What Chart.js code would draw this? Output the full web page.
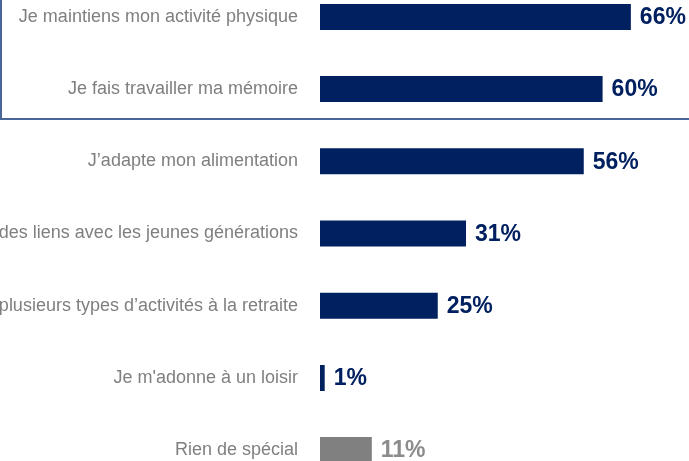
<!DOCTYPE html>
<html>
<head>
<meta charset="utf-8">
<script src="https://cdn.jsdelivr.net/npm/chart.js@4.4.1/dist/chart.umd.min.js"></script>
<style>
  html, body { margin: 0; padding: 0; background: #fff; overflow: hidden; width: 689px; height: 461px; }
  #chart { position: absolute; left: -200px; top: -44px; }
  #box { position: absolute; left: 0; top: -10px; width: 720px; height: 128px;
         border-left: 2px solid #4a6597; border-bottom: 2px solid #4a6597; }
</style>
</head>
<body>
<canvas id="chart" width="1000" height="555"></canvas>
<div id="box"></div>
<script>
// ---- Data ----
var categories = [
  'Je maintiens mon activité physique',
  'Je fais travailler ma mémoire',
  'J\u2019adapte mon alimentation',
  'J\u2019entretiens des liens avec les jeunes générations',
  'Je pratique plusieurs types d\u2019activités à la retraite',
  'Je m\'adonne à un loisir',
  'Rien de spécial'
];
var values = [66, 60, 56, 31, 25, 1, 11];
var barColors = ['#002060', '#002060', '#002060', '#002060', '#002060', '#002060', '#808080'];
var valueColors = ['#002060', '#002060', '#002060', '#002060', '#002060', '#002060', '#8c8c8c'];

// ---- Value labels at bar ends ----
var valueLabels = {
  id: 'valueLabels',
  afterDatasetsDraw: function(chart) {
    var ctx = chart.ctx;
    var meta = chart.getDatasetMeta(0);
    ctx.save();
    ctx.font = 'bold 23px "Liberation Sans", Arial, sans-serif';
    ctx.textAlign = 'left';
    ctx.textBaseline = 'middle';
    meta.data.forEach(function(bar, i) {
      ctx.fillStyle = valueColors[i];
      ctx.fillText(values[i] + '%', bar.x + 9, bar.y + 1);
    });
    ctx.restore();
  }
};

var ctx = document.getElementById('chart').getContext('2d');
var chart = new Chart(ctx, {
  type: 'bar',
  data: { labels: categories, datasets: [{
    data: values, backgroundColor: barColors,
    barPercentage: 0.36, categoryPercentage: 1
  }] },
  options: {
    indexAxis: 'y',
    responsive: false,
    animation: false,
    layout: { padding: { top: 1, right: 9, bottom: 0, left: 0 } },
    plugins: { legend: { display: false }, tooltip: { enabled: false } },
    scales: {
      x: { display: false, min: 0, max: 100 },
      y: {
        grid: { display: false }, border: { display: false },
        ticks: { color: '#7f7f7f', padding: 14, font: { family: '"Liberation Sans", Arial, sans-serif', size: 18 } },
        afterFit: function(scale) { scale.width = 520; }
      }
    }
  },
  plugins: [valueLabels]
});
</script>
</body>
</html>
